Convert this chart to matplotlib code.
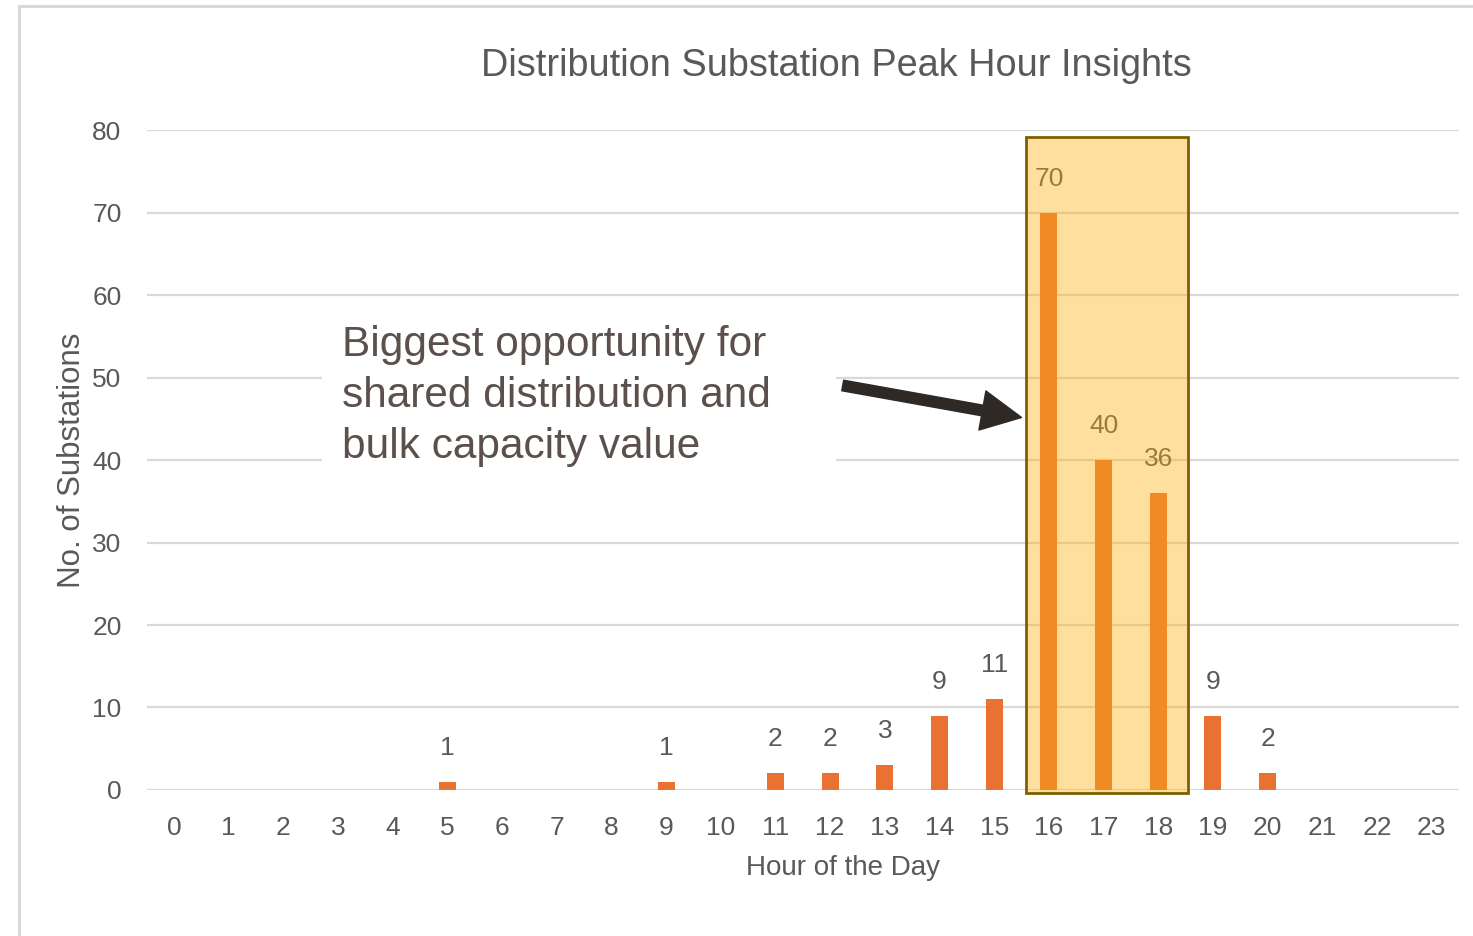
import matplotlib
matplotlib.use("Agg")
import matplotlib.pyplot as plt
from matplotlib.patches import Rectangle, FancyArrowPatch
from matplotlib.lines import Line2D

hours = list(range(24))
substations = [0, 0, 0, 0, 0, 1, 0, 0, 0, 1, 0, 2, 2, 3, 9, 11, 70, 40, 36, 9, 2, 0, 0, 0]
peak_hours = [16, 17, 18]
y_ticks = [0, 10, 20, 30, 40, 50, 60, 70, 80]

title = "Distribution Substation Peak Hour Insights"
note = "Biggest opportunity for\nshared distribution and\nbulk capacity value"

sans = ["Liberation Sans", "DejaVu Sans"]
grey = "#595959"

fig = plt.figure(figsize=(14.73, 9.36), dpi=100)
W, H = 1473, 936


def fx(px):
    return px / W


def fy(py):
    return 1 - py / H


# light frame round the chart area (only left and top edges visible)
fig.add_artist(Line2D([fx(19), fx(19)], [fy(6), 0], color="#D9D9D9", lw=2.2))
fig.add_artist(Line2D([fx(19), 1], [fy(6), fy(6)], color="#D9D9D9", lw=2.2))

ax = fig.add_axes([0.0995, 0.156, 0.891, 0.705])
ax.bar(hours, substations, width=0.31, color="#E97132", zorder=3)
ax.set_xlim(-0.5, 23.5)
ax.set_ylim(0, 80)
ax.set_xticks(hours)
ax.set_xticklabels([str(h) for h in hours])
ax.set_yticks(y_ticks)
ax.grid(axis="y", color="#D9D9D9", lw=1.6, zorder=0)
ax.set_axisbelow(True)
for s in ax.spines.values():
    s.set_visible(False)
ax.tick_params(axis="both", length=0, labelsize=19, labelcolor=grey)
ax.tick_params(axis="x", pad=19)
ax.tick_params(axis="y", pad=18)
for lab in ax.get_xticklabels() + ax.get_yticklabels():
    lab.set_family(sans)

# value labels
for h, v in zip(hours, substations):
    if v > 0:
        ax.annotate(str(v), (h, v), xytext=(0, 34), textcoords="offset pixels",
                    ha="center", va="center", fontsize=19, color=grey,
                    family=sans, zorder=4)

# highlight box over the peak hours
x0 = peak_hours[0] - 0.42
x1 = peak_hours[-1] + 0.54
ax.add_patch(Rectangle((x0, -0.36), x1 - x0, 79.5, facecolor=(1.0, 0.69, 0.05, 0.4),
                       edgecolor="none", zorder=5, clip_on=False))
ax.add_patch(Rectangle((x0, -0.36), x1 - x0, 79.5, facecolor="none",
                       edgecolor="#7F6000", lw=2, zorder=6, clip_on=False))

# callout
ax.add_patch(Rectangle((fx(322), fy(475)), fx(836) - fx(322), fy(310) - fy(475),
                       transform=fig.transFigure, facecolor="white",
                       edgecolor="none", zorder=2))
fig.text(fx(342), fy(396), note, ha="left", va="center", fontsize=30.5,
         color="#5B504C", family=sans, linespacing=1.37, zorder=7)
arrow = FancyArrowPatch((12.18, 49.1), (15.55, 45.1),
                        arrowstyle="simple,head_length=1.3,head_width=1.3,tail_width=0.35",
                        mutation_scale=22, color="#2F2926", zorder=7)
ax.add_patch(arrow)

fig.text(fx(836), fy(66), title, ha="center", va="center", fontsize=27.3,
         color=grey, family=sans)
fig.text(fx(843), fy(868), "Hour of the Day", ha="center", va="center",
         fontsize=20, color=grey, family=sans)
fig.text(fx(72), fy(460), "No. of Substations", ha="center", va="center",
         rotation=90, fontsize=22.5, color=grey, family=sans)

fig.savefig("out.png", dpi=100)
